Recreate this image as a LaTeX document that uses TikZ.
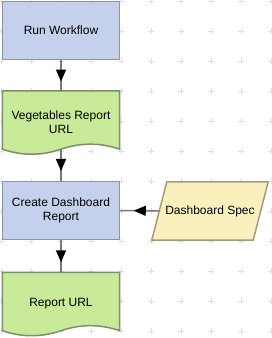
\documentclass[tikz,border=0pt]{standalone}
\usepackage{fontspec}
\setmainfont{Liberation Sans}
\usetikzlibrary{arrows.meta, calc, decorations.markings}
\definecolor{taskblue}{RGB}{197, 208, 236}
\definecolor{taskedge}{RGB}{140, 148, 162}
\definecolor{docgreen}{RGB}{200, 234, 153}
\definecolor{docedge}{RGB}{128, 142, 112}
\definecolor{specyellow}{RGB}{250, 240, 190}
\definecolor{specedge}{RGB}{165, 156, 118}
\definecolor{linegray}{RGB}{120, 120, 120}
\pgfdeclarelayer{gridlayer}
\pgfdeclarelayer{shapelayer}
\pgfsetlayers{gridlayer,shapelayer,main}

% document outline with a wavy bottom, drawn round a named node
\newcommand{\docwave}[2]{%
  \draw[docline, fill=#2] (#1.north west) -- (#1.north east) -- ($(#1.south east)+(0,5)$)
    .. controls ($(#1.south east)+(-19.7,11.7)$) and ($(#1.south)+(19.7,11.7)$) .. ($(#1.south)+(0,5)$)
    .. controls ($(#1.south)+(-19.7,-1.7)$) and ($(#1.south west)+(19.7,-1.7)$) .. ($(#1.south west)+(0,5)$) -- cycle;}
% slanted data outline round a named node
\newcommand{\dataslant}[1]{%
  \draw[specline] (#1.south west) -- ($(#1.south east)+(-15,0)$) -- (#1.north east) -- ($(#1.north west)+(15,0)$) -- cycle;}

\begin{document}
\begin{tikzpicture}[
    x=1pt, y=1pt,
    font=\fontsize{12}{14}\selectfont,
    task/.style={rectangle, draw=taskedge, line width=1.5pt, fill=taskblue, minimum width=117pt, minimum height=58pt, align=center, inner sep=0pt},
    doc/.style={rectangle, minimum width=117pt, minimum height=63pt, align=center, inner sep=0pt},
    docline/.style={draw=docedge, line width=1.5pt},
    spec/.style={rectangle, minimum width=116pt, minimum height=58pt, align=center, inner sep=0pt},
    specline/.style={draw=specedge, line width=1.5pt, fill=specyellow},
    gridmark/.style={draw=black!13, line width=0.8pt},
    flow/.style={draw=linegray, line width=1.5pt, postaction={decorate}, decoration={markings, mark=at position 0.5 with {\arrow[black, xshift=6pt]{Triangle[length=12pt, width=10pt]}}}}
]
\useasboundingbox (0,0) rectangle (271,-338);

% Grid
\begin{pgfonlayer}{gridlayer}
\fill[white] (0,0) rectangle (271,-338);
\foreach \gx in {1,31,...,271}
  \foreach \gy in {1,31,...,331}
    \draw[gridmark] (\gx-3,-\gy) -- (\gx+3,-\gy) (\gx,-\gy-3) -- (\gx,-\gy+3);
\end{pgfonlayer}

% Steps
\node[task] (run) at (61,-30.5) {Run Workflow};
\node[doc] (vegurl) at (61,-122.5) {Vegetables Report\\URL};
\node[task] (create) at (61,-210.5) {Create Dashboard\\Report};
\node[spec] (dashspec) at (210,-211) {Dashboard Spec};
\node[doc] (repurl) at (61,-304) {Report URL};

\begin{pgfonlayer}{shapelayer}
\docwave{vegurl}{docgreen}
\docwave{repurl}{docgreen}
\dataslant{dashspec}
\end{pgfonlayer}

% Flow
\draw[flow] (run) -- (vegurl);
\draw[flow] ($(vegurl.south)+(0,5)$) -- (create);
\draw[flow] (create) -- (repurl);
\draw[flow] ($(dashspec.west)+(7.5,0)$) -- (create.east);
\end{tikzpicture}
\end{document}
